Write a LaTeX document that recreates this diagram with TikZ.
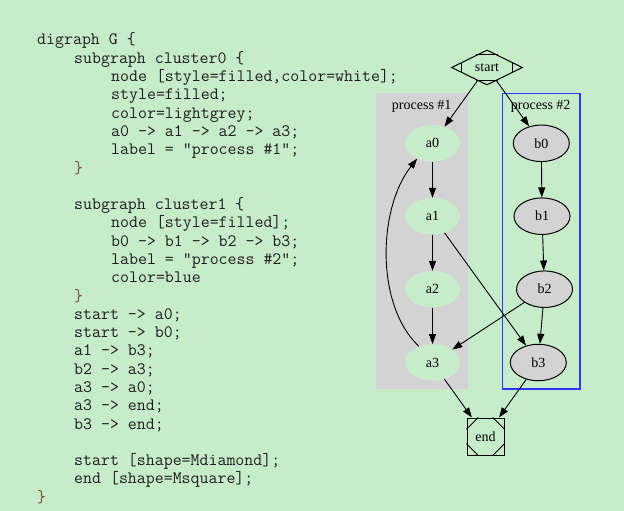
\documentclass[tikz,border=0pt]{standalone}
\usepackage{fontspec}
\setmainfont{Liberation Serif}
\usetikzlibrary{shapes.geometric,arrows.meta,calc}
\definecolor{bg}{RGB}{199,236,201}
\definecolor{clgray}{RGB}{211,211,211}
\definecolor{clblue}{RGB}{45,55,255}
\definecolor{codecol}{RGB}{30,30,30}
\definecolor{bracecol}{RGB}{115,75,45}
\begin{document}
\begin{tikzpicture}[x=1pt,y=-1pt,
  codeline/.style={anchor=base west, inner sep=0pt, font=\ttfamily\fontsize{17.4}{18}\selectfont, text=codecol},
  brace/.style={codeline, text=bracecol},
  gfont/.style={font=\fontsize{14}{16}\selectfont},
  anode/.style={gfont, ellipse, fill=bg, minimum width=55pt, minimum height=36.5pt, inner sep=0pt},
  bnode/.style={gfont, ellipse, draw=black, fill=clgray, line width=1pt, minimum width=56pt, minimum height=36.5pt, inner sep=0pt},
  mdia/.style={gfont, diamond, draw=black, line width=1pt, minimum width=71pt, minimum height=35pt, inner sep=0pt, aspect=2},
  msq/.style={gfont, rectangle, draw=black, line width=1pt, minimum size=37pt, inner sep=0pt},
  clabel/.style={gfont, inner sep=0pt},
  edge/.style={-{Triangle[length=10pt,width=7pt]}, line width=0.9pt, black},
  deco/.style={line width=1pt, black}
]
\fill[bg] (0,0) rectangle (624,511);
\useasboundingbox (0,0) rectangle (624,511);

% code text
\node[codeline] (c1)  at (37,45.0)  {digraph G \{};
\node[codeline] (c2)  at (74,63.3)  {subgraph cluster0 \{};
\node[codeline] (c3)  at (111,81.6) {node [style=filled,color=white];};
\node[codeline] (c4)  at (111,99.8) {style=filled;};
\node[codeline] (c5)  at (111,118.1) {color=lightgrey;};
\node[codeline] (c6)  at (111,136.4) {a0 -> a1 -> a2 -> a3;};
\node[codeline] (c7)  at (111,154.7) {label = "process \#1";};
\node[brace]    (c8)  at (74,173.0) {\}};
\node[codeline] (c10) at (74,209.5) {subgraph cluster1 \{};
\node[codeline] (c11) at (111,227.8) {node [style=filled];};
\node[codeline] (c12) at (111,246.1) {b0 -> b1 -> b2 -> b3;};
\node[codeline] (c13) at (111,264.4) {label = "process \#2";};
\node[codeline] (c14) at (111,282.7) {color=blue};
\node[brace]    (c15) at (74,301.0) {\}};
\node[codeline] (c16) at (74,319.2) {start -> a0;};
\node[codeline] (c17) at (74,337.5) {start -> b0;};
\node[codeline] (c18) at (74,355.8) {a1 -> b3;};
\node[codeline] (c19) at (74,374.1) {b2 -> a3;};
\node[codeline] (c20) at (74,392.4) {a3 -> a0;};
\node[codeline] (c21) at (74,410.7) {a3 -> end;};
\node[codeline] (c22) at (74,429.0) {b3 -> end;};
\node[codeline] (c24) at (74,465.5) {start [shape=Mdiamond];};
\node[codeline] (c25) at (74,483.8) {end [shape=Msquare];};
\node[brace]    (c26) at (37,502.1) {\}};

% clusters
\fill[clgray] (376,93.3) rectangle (468.3,389);
\draw[clblue, line width=1.1pt] (502.3,93.3) rectangle (580,389);
\node[clabel] (l1) at (421.7,106.7) {process \#1};
\node[clabel] (l2) at (540.7,106.7) {process \#2};

% nodes
\node[mdia] (startn) at (487,67.5) {start};
\draw[deco] ($(startn.north)!0.3!(startn.west)$) -- ($(startn.north)!0.3!(startn.east)$);
\draw[deco] ($(startn.south)!0.3!(startn.west)$) -- ($(startn.south)!0.3!(startn.east)$);
\draw[deco] ($(startn.west)!0.3!(startn.north)$) -- ($(startn.west)!0.3!(startn.south)$);
\draw[deco] ($(startn.east)!0.3!(startn.north)$) -- ($(startn.east)!0.3!(startn.south)$);

\node[anode] (a0) at (432.5,143.3) {a0};
\node[anode] (a1) at (432.5,216.2) {a1};
\node[anode] (a2) at (432.5,289.2) {a2};
\node[anode] (a3) at (432.5,362.5) {a3};
\node[bnode] (b0) at (541.3,143.3) {b0};
\node[bnode] (b1) at (542,216.2) {b1};
\node[bnode] (b2) at (544.5,289.2) {b2};
\node[bnode] (b3) at (538.3,362.5) {b3};

\node[msq] (endn) at (485.5,436.5) {end};
\draw[deco] ($(endn.north west)!0.31!(endn.north east)$) -- ($(endn.north west)!0.31!(endn.south west)$);
\draw[deco] ($(endn.north east)!0.31!(endn.north west)$) -- ($(endn.north east)!0.31!(endn.south east)$);
\draw[deco] ($(endn.south west)!0.31!(endn.south east)$) -- ($(endn.south west)!0.31!(endn.north west)$);
\draw[deco] ($(endn.south east)!0.31!(endn.south west)$) -- ($(endn.south east)!0.31!(endn.north east)$);

% edges
\draw[edge] (startn) -- (a0);
\draw[edge] (startn) -- (b0);
\draw[edge] (a0) -- (a1);
\draw[edge] (a1) -- (a2);
\draw[edge] (a2) -- (a3);
\draw[edge] (b0) -- (b1);
\draw[edge] (b1) -- (b2);
\draw[edge] (b2) -- (b3);
\draw[edge] (a1) -- (b3);
\draw[edge] (b2) -- (a3);
\draw[edge] (a3.130) .. controls (375,305) and (378,208) .. (a0.225);
\draw[edge] (a3) -- (endn);
\draw[edge] (b3) -- (endn);
\end{tikzpicture}
\end{document}
